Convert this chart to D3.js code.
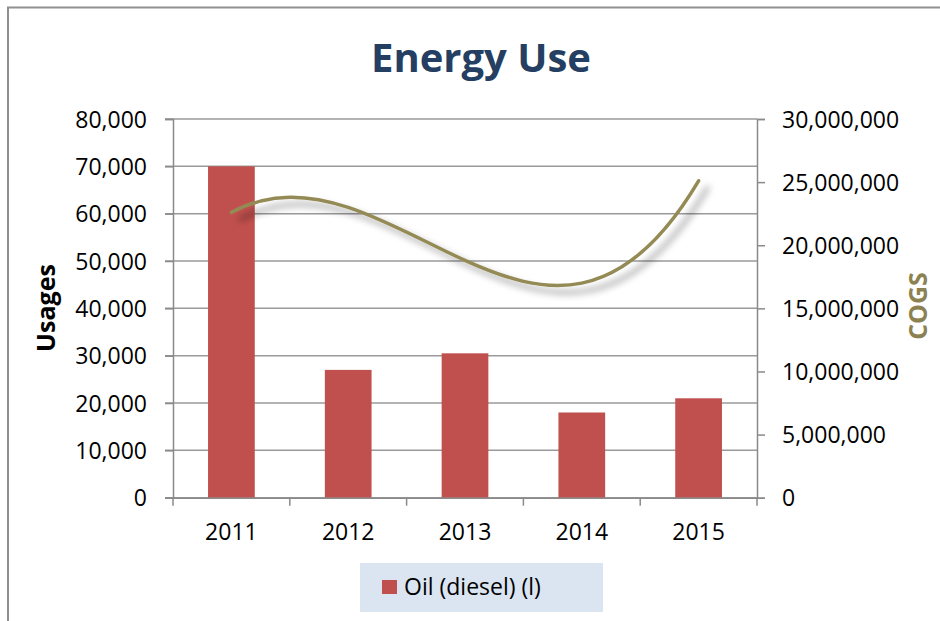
<!DOCTYPE html>
<html lang="en">
<head>
  <meta charset="UTF-8">
  <title>Energy Use</title>
  <script src="https://cdn.jsdelivr.net/npm/d3@7/dist/d3.min.js"></script>
  <style>
    body { margin: 0; background: #fff; }
    text { font-family: 'Open Sans', sans-serif; }
  </style>
</head>
<body>
  <svg width="940" height="621" id="mainsvg"></svg>
  <script>
    const years = ['2011', '2012', '2013', '2014', '2015']
    const oil = [70000, 27000, 30500, 18000, 21000]
    const cogs = [22600000, 23000000, 18800000, 17000000, 25100000]
    const leftTicks = [0, 10000, 20000, 30000, 40000, 50000, 60000, 70000, 80000]
    const rightTicks = [0, 5000000, 10000000, 15000000, 20000000, 25000000, 30000000]

    // cubic spline curve with "not-a-knot" ends (smoother ends than curveNatural)
    function NotAKnot(context) { this._context = context }
    NotAKnot.prototype = {
      areaStart() { this._line = 0 },
      areaEnd() { this._line = NaN },
      lineStart() { this._x = []; this._y = [] },
      point(x, y) { this._x.push(+x); this._y.push(+y) },
      lineEnd() {
        const x = this._x, y = this._y, n = x.length, c = this._context
        if (n) {
          this._line ? c.lineTo(x[0], y[0]) : c.moveTo(x[0], y[0])
          if (n < 4) {
            for (let i = 1; i < n; i++) c.lineTo(x[i], y[i])
          } else {
            const h = [], dl = []
            for (let i = 0; i < n - 1; i++) {
              h.push(x[i + 1] - x[i])
              dl.push((y[i + 1] - y[i]) / h[i])
            }
            // build system for second derivatives M
            const A = d3.range(n).map(() => new Array(n).fill(0)), b = new Array(n).fill(0)
            A[0][0] = h[1]; A[0][1] = -(h[0] + h[1]); A[0][2] = h[0]
            for (let i = 1; i < n - 1; i++) {
              A[i][i - 1] = h[i - 1]
              A[i][i] = 2 * (h[i - 1] + h[i])
              A[i][i + 1] = h[i]
              b[i] = 6 * (dl[i] - dl[i - 1])
            }
            A[n - 1][n - 3] = h[n - 2]; A[n - 1][n - 2] = -(h[n - 3] + h[n - 2]); A[n - 1][n - 1] = h[n - 3]
            // gaussian elimination
            for (let k = 0; k < n; k++) {
              let p = k
              for (let r = k + 1; r < n; r++) if (Math.abs(A[r][k]) > Math.abs(A[p][k])) p = r
              ;[A[k], A[p]] = [A[p], A[k]];[b[k], b[p]] = [b[p], b[k]]
              for (let r = k + 1; r < n; r++) {
                const m = A[r][k] / A[k][k]
                for (let cc = k; cc < n; cc++) A[r][cc] -= m * A[k][cc]
                b[r] -= m * b[k]
              }
            }
            const M = new Array(n).fill(0)
            for (let k = n - 1; k >= 0; k--) {
              let s = b[k]
              for (let cc = k + 1; cc < n; cc++) s -= A[k][cc] * M[cc]
              M[k] = s / A[k][k]
            }
            for (let i = 0; i < n - 1; i++) {
              const s0 = dl[i] - h[i] * (2 * M[i] + M[i + 1]) / 6
              const s1 = dl[i] + h[i] * (M[i] + 2 * M[i + 1]) / 6
              c.bezierCurveTo(x[i] + h[i] / 3, y[i] + s0 * h[i] / 3,
                x[i + 1] - h[i] / 3, y[i + 1] - s1 * h[i] / 3, x[i + 1], y[i + 1])
            }
          }
        }
        if (this._line || (this._line !== 0 && n === 1)) c.closePath()
        this._line = 1 - this._line
        this._x = this._y = null
      }
    }
    const curveNotAKnot = context => new NotAKnot(context)

    const svg = d3.select('#mainsvg')
    const plot = {left: 173, right: 757, top: 119, bottom: 497.7}
    const gridColor = '#9a9a9a'
    const axisColor = '#8a8a8a'

    const x = d3.scaleBand().domain(years)
      .range([plot.left, plot.right])
      .paddingInner(0.6).paddingOuter(0.3)
    const yL = d3.scaleLinear().domain([0, 80000]).range([plot.bottom, plot.top])
    const yR = d3.scaleLinear().domain([0, 30000000]).range([plot.bottom, plot.top])
    const fmt = d3.format(',')

    // chart border (cut off at right and bottom)
    svg.append('rect')
      .attr('x', 8).attr('y', 7.5).attr('width', 1000).attr('height', 1000)
      .attr('fill', 'none').attr('stroke', '#8f8f8f').attr('stroke-width', 2)

    const defs = svg.append('defs')
    const f = defs.append('filter').attr('id', 'shadow')
      .attr('x', '-20%').attr('y', '-20%').attr('width', '140%').attr('height', '160%')
    f.append('feDropShadow')
      .attr('dx', 9).attr('dy', 7).attr('stdDeviation', 3.5)
      .attr('flood-color', '#000').attr('flood-opacity', 0.4)

    // gridlines
    svg.append('g').selectAll('line').data(leftTicks).join('line')
      .attr('x1', plot.left - 8).attr('x2', plot.right)
      .attr('y1', d => yL(d)).attr('y2', d => yL(d))
      .attr('stroke', gridColor).attr('stroke-width', 1.5)

    // bars
    svg.append('g').selectAll('rect').data(years).join('rect')
      .attr('x', d => x(d))
      .attr('width', x.bandwidth())
      .attr('y', (d, i) => yL(oil[i]))
      .attr('height', (d, i) => plot.bottom - yL(oil[i]))
      .attr('fill', '#C0504D')

    // COGS curve
    const line = d3.line()
      .x((d, i) => x(years[i]) + x.bandwidth() / 2)
      .y(d => yR(d))
      .curve(curveNotAKnot)
    svg.append('path').datum(cogs)
      .attr('d', line)
      .attr('fill', 'none')
      .attr('stroke', '#948A54')
      .attr('stroke-width', 3.5)
      .attr('stroke-linecap', 'round')
      .attr('filter', 'url(#shadow)')

    // left axis
    const gL = svg.append('g').attr('transform', `translate(${plot.left},0)`)
      .call(d3.axisLeft(yL).tickValues(leftTicks).tickFormat(fmt).tickSize(8).tickPadding(18))
    // right axis
    const gR = svg.append('g').attr('transform', `translate(${plot.right},0)`)
      .call(d3.axisRight(yR).tickValues(rightTicks).tickFormat(fmt).tickSize(8).tickPadding(17))
    // bottom axis labels
    const gB = svg.append('g').attr('transform', `translate(0,${plot.bottom})`)
      .call(d3.axisBottom(x).tickSize(0).tickPadding(0))

    ;[gL, gR, gB].forEach(g => {
      g.select('.domain').attr('stroke', axisColor).attr('stroke-width', 1.5)
      g.selectAll('.tick line').attr('stroke', axisColor).attr('stroke-width', 1.5)
      g.selectAll('.tick text').attr('font-size', '23px').attr('fill', '#000')
        .attr('font-family', "'Open Sans', sans-serif")
    })
    gL.selectAll('.tick text').attr('dy', '0.36em')
    gR.selectAll('.tick text').attr('dy', '0.36em')
    gB.selectAll('.tick text').attr('dy', 0).attr('y', 42)

    // category boundary ticks on the x axis
    const bounds = d3.range(years.length + 1).map(i => plot.left + i * x.step())
    gB.selectAll('line.bound').data(bounds).join('line')
      .attr('class', 'bound')
      .attr('x1', d => d).attr('x2', d => d)
      .attr('y1', 0).attr('y2', 8)
      .attr('stroke', axisColor).attr('stroke-width', 1.5)

    // title
    svg.append('text').text('Energy Use')
      .attr('x', 481).attr('y', 72)
      .attr('text-anchor', 'middle')
      .attr('font-size', '40px').attr('font-weight', 'bold')
      .attr('fill', '#253F62')

    // axis titles
    svg.append('text').text('Usages')
      .attr('transform', 'translate(55,308) rotate(-90)')
      .attr('text-anchor', 'middle')
      .attr('font-size', '25px').attr('font-weight', 'bold')
      .attr('fill', '#000')
    svg.append('text').text('COGS')
      .attr('transform', 'translate(927,306) rotate(-90)')
      .attr('text-anchor', 'middle')
      .attr('font-size', '25px').attr('font-weight', 'bold')
      .attr('fill', '#8C8150')

    // legend
    const lg = svg.append('g')
    lg.append('rect').attr('x', 360).attr('y', 563).attr('width', 243).attr('height', 49)
      .attr('fill', '#DBE5F1')
    lg.append('rect').attr('x', 382).attr('y', 580).attr('width', 15).attr('height', 14)
      .attr('fill', '#C0504D')
    lg.append('text').text('Oil (diesel) (l)')
      .attr('x', 404).attr('y', 595)
      .attr('font-size', '23px').attr('fill', '#000')
  </script>
</body>
</html>
